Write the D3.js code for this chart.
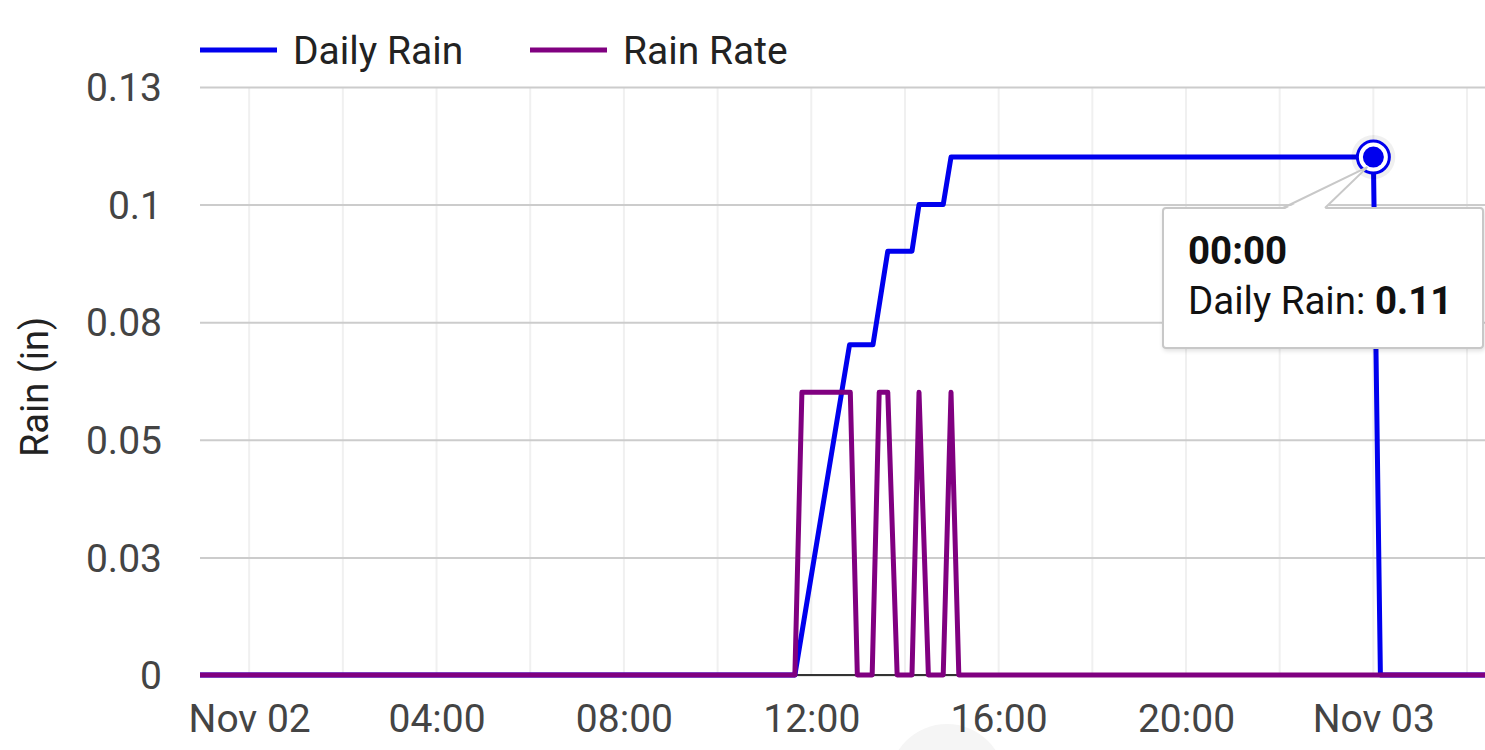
<!DOCTYPE html>
<html>
<head>
<meta charset="utf-8">
<script src="https://cdn.jsdelivr.net/npm/d3@7"></script>
<style>
  html, body { margin: 0; padding: 0; background: #fff; }
  svg { display: block; font-family: Roboto, "Noto Sans", sans-serif; }
</style>
</head>
<body>
<svg id="chart" width="1485" height="750"></svg>
<script>
// ---- data ----
const seriesNames = ["Daily Rain", "Rain Rate"];
const seriesColors = ["#0000ee", "#800080"];

const dailyRainTimes = ["2023-11-01T22:57", "2023-11-02T11:39", "2023-11-02T12:49", "2023-11-02T13:19",
  "2023-11-02T13:38", "2023-11-02T14:09", "2023-11-02T14:18", "2023-11-02T14:49", "2023-11-02T14:59",
  "2023-11-03T00:00", "2023-11-03T00:09", "2023-11-03T02:23"];
const dailyRainValues = [0, 0, 0.073, 0.073, 0.0937, 0.0937, 0.104, 0.104, 0.1145, 0.1145, 0, 0];

const rainRateTimes = ["2023-11-01T22:57", "2023-11-02T11:39", "2023-11-02T11:48", "2023-11-02T12:50",
  "2023-11-02T12:59", "2023-11-02T13:18", "2023-11-02T13:27", "2023-11-02T13:38", "2023-11-02T13:50",
  "2023-11-02T14:09", "2023-11-02T14:18", "2023-11-02T14:30", "2023-11-02T14:49", "2023-11-02T14:59",
  "2023-11-02T15:09", "2023-11-03T02:23"];
const rainRateValues = [0, 0, 0.0625, 0.0625, 0, 0, 0.0625, 0.0625, 0, 0, 0.0625, 0, 0, 0.0625, 0, 0];

const yTickValues = [0, 0.026, 0.052, 0.078, 0.104, 0.13];
const xDomain = ["2023-11-01T22:57", "2023-11-03T02:23"];
const xLabelTimes = ["2023-11-02T00:00", "2023-11-02T04:00", "2023-11-02T08:00", "2023-11-02T12:00",
  "2023-11-02T16:00", "2023-11-02T20:00", "2023-11-03T00:00"];
const xLabels = ["Nov 02", "04:00", "08:00", "12:00", "16:00", "20:00", "Nov 03"];
const yTitle = "Rain (in)";
const tooltipTime = "2023-11-03T00:00";
const tooltipTitle = "00:00";
const tooltipLabel = "Daily Rain: ";
const tooltipValue = "0.11";
const tooltipPointValue = 0.1145;

// ---- setup ----
const parse = d3.timeParse("%Y-%m-%dT%H:%M");
const svg = d3.select("#chart");
const pLeft = 200, pRight = 1485, pTop = 87, pBottom = 675;
const fs = 39;

const x = d3.scaleTime().domain(xDomain.map(parse)).range([pLeft, pRight]);
const y = d3.scaleLinear().domain([0, 0.13]).range([pBottom, pTop]);

// faint background circle (UI artifact)
svg.append("circle").attr("cx", 947).attr("cy", 782).attr("r", 58).attr("fill", "#f5f5f5");

// vertical minor gridlines every 2h
const grid2h = d3.timeHour.every(2).range(x.domain()[0], x.domain()[1]);
svg.append("g").selectAll("line").data(grid2h).join("line")
  .attr("x1", d => x(d)).attr("x2", d => x(d))
  .attr("y1", pTop).attr("y2", pBottom)
  .attr("stroke", "#f0f0f0").attr("stroke-width", 2);

// horizontal gridlines
const yAxis = d3.axisLeft(y).tickValues(yTickValues)
  .tickSize(-(pRight - pLeft)).tickPadding(38)
  .tickFormat(d => String(+d.toFixed(2)));
const gy = svg.append("g").attr("transform", `translate(${pLeft},0)`).call(yAxis);
gy.select(".domain").remove();
gy.selectAll(".tick line").attr("stroke", "#cccccc").attr("stroke-width", 2);
gy.selectAll(".tick text").attr("fill", "#444").attr("font-size", fs)
  .attr("font-family", "Roboto, sans-serif").attr("dy", "0.35em");

// x axis labels
const xAxis = d3.axisBottom(x).tickValues(xLabelTimes.map(parse))
  .tickSize(0).tickPadding(29)
  .tickFormat((d, i) => xLabels[i]);
const gx = svg.append("g").attr("transform", `translate(0,${pBottom})`).call(xAxis);
gx.select(".domain").remove();
gx.selectAll(".tick text").attr("fill", "#444").attr("font-size", fs)
  .attr("font-family", "Roboto, sans-serif").attr("dy", "0.71em");

// baseline
svg.append("line").attr("x1", pLeft).attr("x2", pRight).attr("y1", pBottom).attr("y2", pBottom)
  .attr("stroke", "#333").attr("stroke-width", 2);

// y title
svg.append("text").attr("transform", `translate(48,${(pTop + pBottom) / 2 + 6}) rotate(-90)`)
  .attr("text-anchor", "middle").attr("font-size", fs - 1).attr("fill", "#222").text(yTitle);

// lines
const line = d3.line().x(d => x(d.t)).y(d => y(d.v));
const dailyData = dailyRainTimes.map((t, i) => ({ t: parse(t), v: dailyRainValues[i] }));
const rateData = rainRateTimes.map((t, i) => ({ t: parse(t), v: rainRateValues[i] }));

svg.append("path").datum(dailyData).attr("d", line).attr("fill", "none")
  .attr("stroke", seriesColors[0]).attr("stroke-width", 5).attr("stroke-linejoin", "round");
svg.append("path").datum(rateData).attr("d", line).attr("fill", "none")
  .attr("stroke", seriesColors[1]).attr("stroke-width", 5).attr("stroke-linejoin", "round");

// legend
const legendX = [200, 530];
seriesNames.forEach((name, i) => {
  const g = svg.append("g").attr("transform", `translate(${legendX[i]},50)`);
  g.append("line").attr("x1", 0).attr("x2", 77).attr("y1", 0).attr("y2", 0)
    .attr("stroke", seriesColors[i]).attr("stroke-width", 5);
  g.append("text").attr("x", 93).attr("y", 0).attr("dy", "0.35em")
    .attr("font-size", fs).attr("fill", "#222").text(name);
});

// hover marker
const px = x(parse(tooltipTime)), py = y(tooltipPointValue);
svg.append("circle").attr("cx", px).attr("cy", py).attr("r", 22).attr("fill", "rgba(0,0,0,0.06)");
svg.append("circle").attr("cx", px).attr("cy", py).attr("r", 16).attr("fill", "#fff")
  .attr("stroke", seriesColors[0]).attr("stroke-width", 3);
svg.append("circle").attr("cx", px).attr("cy", py).attr("r", 10.5).attr("fill", seriesColors[0]);

// tooltip
const tx = 1163, ty = 208, tw = 320, th = 140;
const defs = svg.append("defs");
const f = defs.append("filter").attr("id", "sh").attr("x", "-10%").attr("y", "-10%").attr("width", "130%").attr("height", "140%");
f.append("feDropShadow").attr("dx", 1).attr("dy", 2).attr("stdDeviation", 2).attr("flood-color", "#000").attr("flood-opacity", 0.12);
const tg = svg.append("g");
tg.append("rect").attr("x", tx).attr("y", ty).attr("width", tw).attr("height", th)
  .attr("rx", 3).attr("fill", "#fff").attr("stroke", "#c8c8c8").attr("stroke-width", 2).attr("filter", "url(#sh)");
// callout
tg.append("path").attr("d", `M${tx + 122},${ty + 1} L${px - 6},${py + 10} L${tx + 162},${ty + 1} Z`)
  .attr("fill", "#fff").attr("stroke", "none");
tg.append("path").attr("d", `M${tx + 120},${ty} L${px - 6},${py + 10} L${tx + 162},${ty}`)
  .attr("fill", "none").attr("stroke", "#c8c8c8").attr("stroke-width", 2);
tg.append("text").attr("x", tx + 25).attr("y", ty + 56).attr("font-size", 38.5)
  .attr("font-weight", "bold").attr("fill", "#111").text(tooltipTitle);
const t2 = tg.append("text").attr("x", tx + 25).attr("y", ty + 106).attr("font-size", 38.5).attr("fill", "#111");
t2.append("tspan").text(tooltipLabel);
t2.append("tspan").attr("font-weight", "bold").text(tooltipValue);
</script>
</body>
</html>
